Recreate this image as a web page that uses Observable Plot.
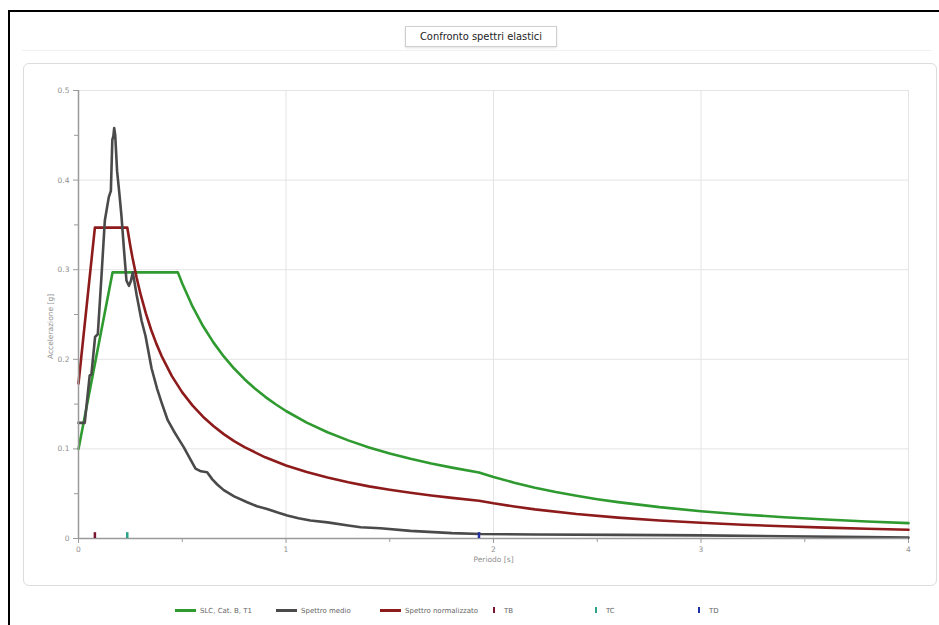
<!DOCTYPE html>
<html>
<head>
<meta charset="utf-8">
<script src="https://cdn.jsdelivr.net/npm/d3@7"></script>
<script src="https://cdn.jsdelivr.net/npm/@observablehq/plot@0.6"></script>
<style>
  html, body { margin: 0; padding: 0; background: #fff; }
  #wrap { position: relative; width: 939px; height: 625px; overflow: hidden; background: #fff; font-family: "DejaVu Sans", Verdana, sans-serif; }
  .abs { position: absolute; }
  #frame { left: 8px; top: 10px; width: 1000px; height: 700px; border-left: 2px solid #000; border-top: 2px solid #000; }
  #sep { left: 22px; top: 50px; width: 910px; height: 1px; background: #f1f1f1; }
  #title { left: 405px; top: 26px; width: 150px; height: 19px; border: 1px solid #cfcfcf; box-shadow: 0 1px 2px rgba(0,0,0,0.12);
           font-family: "DejaVu Sans Condensed", "Liberation Sans Narrow", "DejaVu Sans", sans-serif; font-stretch: condensed;
           font-size: 11px; line-height: 19px; text-align: center; color: #222; background: #fff; }
  #panel { left: 23px; top: 63px; width: 912px; height: 521px; border: 1px solid #dcdcdc; border-radius: 6px; }
  #chart { left: 0; top: 0; }
  .leg { position: absolute; top: 605px; height: 12px; font-size: 7px; color: #666; line-height: 12px; white-space: nowrap; }
  .sw { display: inline-block; width: 21px; height: 3px; vertical-align: middle; margin-right: 4px; position: relative; top: -1px; }
  .mk { display: inline-block; width: 2px; height: 6px; vertical-align: middle; margin-right: 9px; position: relative; top: -1px; }
</style>
</head>
<body>
<div id="wrap">
  <div id="frame" class="abs"></div>
  <div id="sep" class="abs"></div>
  <div id="title" class="abs">Confronto spettri elastici</div>
  <div id="panel" class="abs"></div>
  <div id="chart" class="abs"></div>
  <div id="legend"></div>
</div>
<script>
// ---- Data ----
const slcPeriods = [0, 0.164, 0.479, 0.5, 0.55, 0.6, 0.65, 0.7, 0.75, 0.8, 0.85, 0.9, 0.95, 1.0, 1.1, 1.2, 1.3, 1.4, 1.5, 1.6, 1.7, 1.8, 1.93, 2.0, 2.1, 2.2, 2.3, 2.4, 2.5, 2.6, 2.8, 3.0, 3.2, 3.4, 3.6, 3.8, 4.0];
const slcAccel   = [0.100, 0.297, 0.297, 0.2845, 0.2587, 0.2371, 0.2189, 0.2032, 0.1897, 0.1778, 0.1674, 0.1581, 0.1498, 0.1423, 0.1294, 0.1186, 0.1095, 0.1016, 0.0949, 0.0889, 0.0837, 0.0791, 0.0737, 0.0687, 0.0623, 0.0567, 0.0519, 0.0477, 0.0439, 0.0406, 0.0350, 0.0305, 0.0268, 0.0238, 0.0212, 0.0190, 0.0172];

const medioPeriods = [0, 0.03, 0.054, 0.062, 0.08, 0.093, 0.11, 0.127, 0.146, 0.156, 0.163, 0.168, 0.172, 0.177, 0.186, 0.197, 0.207, 0.22, 0.231, 0.243, 0.252, 0.262, 0.28, 0.304, 0.323, 0.352, 0.379, 0.4, 0.43, 0.459, 0.48, 0.507, 0.54, 0.564, 0.59, 0.62, 0.645, 0.67, 0.70, 0.75, 0.813, 0.86, 0.909, 0.96, 1.006, 1.06, 1.118, 1.2, 1.3, 1.36, 1.455, 1.6, 1.8, 1.94, 2.2, 2.6, 3.0, 3.4, 3.8, 4.0];
const medioAccel   = [0.129, 0.129, 0.182, 0.183, 0.225, 0.228, 0.29, 0.355, 0.381, 0.388, 0.445, 0.449, 0.458, 0.450, 0.41, 0.385, 0.36, 0.32, 0.288, 0.282, 0.287, 0.297, 0.272, 0.243, 0.226, 0.19, 0.167, 0.152, 0.132, 0.12, 0.112, 0.102, 0.088, 0.078, 0.075, 0.074, 0.066, 0.060, 0.054, 0.047, 0.0405, 0.036, 0.033, 0.029, 0.0257, 0.0225, 0.020, 0.018, 0.0145, 0.0126, 0.0115, 0.0085, 0.006, 0.005, 0.0045, 0.004, 0.0035, 0.0025, 0.0015, 0.001];

const normPeriods = [0, 0.079, 0.235, 0.25, 0.26, 0.28, 0.3, 0.325, 0.35, 0.375, 0.4, 0.45, 0.5, 0.55, 0.6, 0.65, 0.7, 0.75, 0.8, 0.9, 1.0, 1.1, 1.2, 1.3, 1.4, 1.5, 1.6, 1.7, 1.8, 1.93, 2.0, 2.1, 2.2, 2.4, 2.6, 2.8, 3.0, 3.2, 3.4, 3.6, 3.8, 4.0];
const normAccel   = [0.173, 0.347, 0.347, 0.3262, 0.3136, 0.2912, 0.2718, 0.2509, 0.2330, 0.2175, 0.2039, 0.1812, 0.1631, 0.1483, 0.1359, 0.1255, 0.1165, 0.1087, 0.1019, 0.0906, 0.0815, 0.0741, 0.0680, 0.0627, 0.0582, 0.0544, 0.0510, 0.0480, 0.0453, 0.0422, 0.0393, 0.0357, 0.0325, 0.0273, 0.0233, 0.0201, 0.0175, 0.0154, 0.0136, 0.0121, 0.0109, 0.0098];

const markerNames   = ["TB", "TC", "TD"];
const markerPeriods = [0.079, 0.235, 1.93];
const markerColors  = ["#7a1530", "#2aa38a", "#1f2fa8"];

const seriesNames  = ["SLC, Cat. B, T1", "Spettro medio", "Spettro normalizzato"];
const seriesColors = ["#2f9a2f", "#4a4a4a", "#8e1b1b"];

const yMajor = [0, 0.1, 0.2, 0.3, 0.4, 0.5];
const yMinor = [0.05, 0.15, 0.25, 0.35, 0.45];
const xMajor = [0, 1, 2, 3, 4];
const xMinor = [0.5, 1.5, 2.5, 3.5];

// ---- Build tables ----
const zip = (ts, as) => ts.map((T, i) => ({T, A: as[i]}));
const slc = zip(slcPeriods, slcAccel);
const medio = zip(medioPeriods, medioAccel);
const norm = zip(normPeriods, normAccel);
const markers = markerNames.map((n, i) => ({name: n, T: markerPeriods[i], color: markerColors[i]}));

const axisColor = "#9a9a9a";
const labelColor = "#8f8f8f";
const chart = Plot.plot({
  width: 939,
  height: 625,
  marginLeft: 78,
  marginRight: 31,
  marginTop: 90,
  marginBottom: 87,
  x: {domain: [0, 4]},
  y: {domain: [0, 0.5]},
  color: {type: "identity"},
  style: {fontFamily: "'DejaVu Sans', Verdana, sans-serif", fontSize: "7.5px", color: axisColor, background: "transparent", overflow: "visible"},
  marks: [
    Plot.gridX(xMajor.slice(1), {stroke: "#e4e4e4", strokeOpacity: 1}),
    Plot.gridY(yMajor.slice(1), {stroke: "#e4e4e4", strokeOpacity: 1}),
    Plot.axisY(yMajor, {tickSize: 5, tickPadding: 4, stroke: axisColor, fill: labelColor, tickFormat: d => String(+d.toFixed(2)), label: null}),
    Plot.axisY(yMinor, {tickSize: 4, stroke: axisColor, tickFormat: () => "", label: null}),
    Plot.axisX(xMajor, {tickSize: 5, tickPadding: 3, stroke: axisColor, fill: labelColor, tickFormat: d => String(d), label: null}),
    Plot.axisX(xMinor, {tickSize: 4, stroke: axisColor, tickFormat: () => "", label: null}),
    Plot.text(["Accelerazione [g]"], {frameAnchor: "left", textAnchor: "middle", text: d => d, rotate: -90, dx: -28, dy: 12, fill: labelColor, fontSize: 7.5}),
    Plot.text(["Periodo [s]"], {frameAnchor: "bottom", text: d => d, dy: 23, fill: labelColor, fontSize: 7.5}),
    Plot.line(slc, {x: "T", y: "A", stroke: seriesColors[0], strokeWidth: 2.6}),
    Plot.line(norm, {x: "T", y: "A", stroke: seriesColors[2], strokeWidth: 2.6}),
    Plot.line(medio, {x: "T", y: "A", stroke: seriesColors[1], strokeWidth: 2.6, strokeLinejoin: "round"}),
    Plot.ruleX([0], {stroke: axisColor, strokeWidth: 1.5}),
    Plot.ruleY([0], {stroke: axisColor, strokeWidth: 1.5}),
    Plot.ruleX(markers, {x: "T", y1: 0, y2: 0.0065, stroke: "color", strokeWidth: 2.5})
  ]
});
document.getElementById("chart").appendChild(chart);

// ---- Legend ----
const legend = document.getElementById("legend");
const legPos = [175, 276, 380];
seriesNames.forEach((n, i) => {
  const d = document.createElement("div");
  d.className = "leg";
  d.style.left = legPos[i] + "px";
  d.innerHTML = `<span class="sw" style="background:${seriesColors[i]}"></span>`;
  d.appendChild(document.createTextNode(n));
  legend.appendChild(d);
});
const mkPos = [493, 595, 698];
markers.forEach((m, i) => {
  const d = document.createElement("div");
  d.className = "leg";
  d.style.left = mkPos[i] + "px";
  d.innerHTML = `<span class="mk" style="background:${m.color}"></span>`;
  d.appendChild(document.createTextNode(m.name));
  legend.appendChild(d);
});
</script>
</body>
</html>
